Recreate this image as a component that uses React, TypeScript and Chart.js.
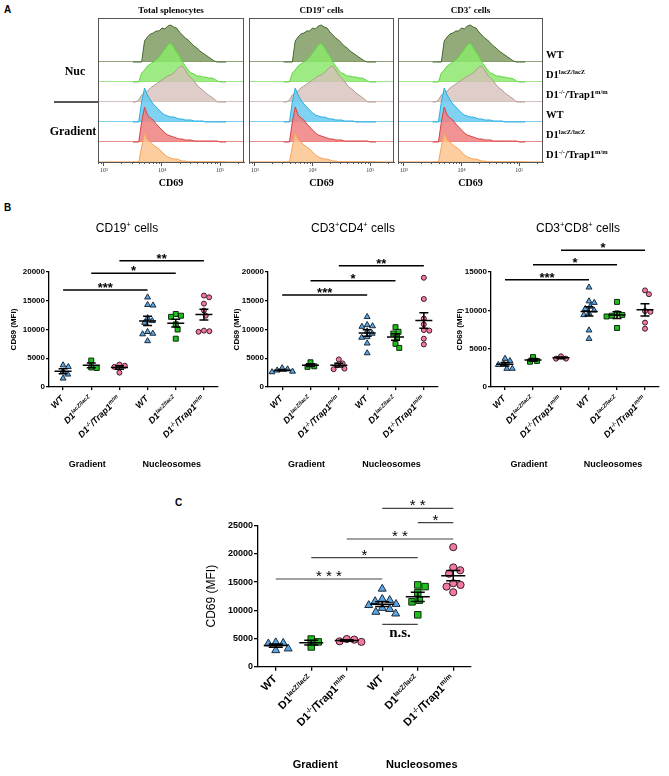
import React, { useEffect, useRef } from 'react';
import { Chart, registerables } from 'chart.js';

Chart.register(...registerables);

const SANS = '"Liberation Sans", Arial, sans-serif';
const SERIF = '"Liberation Serif", "Times New Roman", serif';

// ---------------- Panel A : CD69 histograms ----------------
// bin centres (CD69 fluorescence), counts per bin for each sample (rows top -> bottom)
const cd69Bins = [3162, 3548, 3981, 4467, 5012, 5623, 6310, 7079, 7943, 8913, 10000, 11220, 12589, 14125, 15849, 17783, 19953, 22387, 25119, 28184, 31623, 35481, 39811, 44668, 50119, 56234, 63096, 70795, 79433, 89125, 100000, 112202, 125893];
const nucWT = [0, 0, 0, 0, 21, 25, 28, 29, 31, 31, 34, 33, 36, 37, 35, 34, 30, 27, 24, 22, 19, 16, 14, 11, 9, 7, 5, 3, 1, 0, 0, 0, 0];
const nucD1 = [0, 0, 0, 9, 12, 16, 18, 20, 22, 25, 29, 33, 37, 39, 35, 30, 26, 20, 16, 12, 9, 8, 6, 6, 5, 5, 4, 4, 3, 1, 0, 0, 0];
const nucDKO = [0, 0, 2, 7, 9, 11, 14, 16, 18, 20, 22, 24, 26, 27, 29, 32, 35, 36, 32, 27, 24, 21, 17, 14, 12, 9, 7, 5, 3, 0, 0, 0, 0];
const gradWT = [0, 0, 0, 20, 34, 27, 22, 18, 15, 12, 9, 7, 6, 5, 5, 4, 3, 3, 2, 2, 2, 1, 1, 1, 1, 0, 0, 0, 0, 0, 0, 0, 0];
const gradD1 = [0, 0, 0, 20, 35, 27, 24, 22, 18, 15, 12, 9, 7, 6, 5, 4, 3, 3, 2, 2, 2, 1, 1, 1, 1, 1, 1, 1, 1, 1, 0, 0, 0];
const gradDKO = [0, 0, 0, 15, 29, 22, 20, 17, 15, 13, 10, 7, 5, 4, 3, 3, 2, 1, 1, 0, 0, 0, 0, 0, 0, 0, 0, 0, 0, 0, 0, 0, 0];
const histSeries = [nucWT, nucD1, nucDKO, gradWT, gradD1, gradDKO];
const histTicks = [1000, 10000, 100000];
const histTickLabels = ['10³', '10⁴', '10⁵'];
const histConditions = ['Nuc', 'Gradient'];

// ---------------- Panel B / C : CD69 MFI ----------------
const cd19Values = [
  [3800, 3500, 2700, 2200, 1500],
  [4600, 3400, 3300],
  [3900, 3700, 3500, 2500],
  [15600, 14300, 14200, 12000, 11500, 11200, 9600, 9300, 9200, 8000],
  [12700, 12200, 12400, 10900, 10000, 8400],
  [15900, 15600, 14500, 13300, 12400, 9800, 9700, 9600],
];
const cd4Values = [
  [3300, 3100, 2900, 2700, 2600],
  [4300, 3600, 3500],
  [4800, 4100, 3800, 3200, 3100],
  [12200, 10800, 10600, 10500, 9700, 9300, 8700, 8600, 7600, 5900],
  [10400, 9600, 9300, 8600, 7500, 6800],
  [19000, 15300, 11900, 10900, 9900, 9800, 8400, 7400],
];
const cd8Values = [
  [3700, 3400, 3000, 2900, 2400, 2400],
  [3900, 3400, 3300],
  [4000, 3700, 3700],
  [13000, 11200, 11000, 10500, 10200, 10000, 9600, 9400, 7400, 6300],
  [11100, 9600, 9400, 9300, 9200, 7700],
  [12600, 12100, 9900, 9800, 8400, 7600],
];
const totalValues = [
  [4300, 4200, 4100, 3200, 2900],
  [4900, 4400, 3500],
  [4900, 4800, 4500, 4400],
  [13800, 12000, 11800, 11600, 11100, 10900, 10400, 10200, 9700, 9400],
  [14500, 14200, 13100, 11800, 11500, 9200],
  [21200, 17600, 17100, 16500, 14800, 14500, 14200, 13200],
];
const ticks20k = [0, 5000, 10000, 15000, 20000];
const ticks15k = [0, 5000, 10000, 15000];
const ticks25k = [0, 5000, 10000, 15000, 20000, 25000];

type SigBar = [number, number, number, string];
const cd19Sig: SigBar[] = [[0, 3, 16870, '***'], [1, 4, 19770, '*'], [2, 5, 21960, '**']];
const cd4Sig: SigBar[] = [[0, 3, 16000, '***'], [1, 4, 18490, '*'], [2, 5, 21100, '**']];
const cd8Sig: SigBar[] = [[0, 3, 14000, '***'], [1, 4, 15960, '*'], [2, 5, 17830, '*']];
const totalSig: SigBar[] = [[0, 3, 15550, '* * *'], [1, 4, 19330, '*'], [2, 5, 22640, '* *'], [4, 5, 25530, '*'], [3, 5, 28080, '* *']];
const totalNs: SigBar[] = [[3, 4, 7520, 'n.s.']];

const conditionNames = ['Gradient', 'Nucleosomes'];

type Seg = { t: string; sup?: boolean };
const genotypeLabels: Seg[][] = [
  [{ t: 'WT' }],
  [{ t: 'D1' }, { t: 'lacZ/lacZ', sup: true }],
  [{ t: 'D1' }, { t: '-/-', sup: true }, { t: '/Trap1' }, { t: 'm/m', sup: true }],
];
const cellTitlesA: Seg[][] = [
  [{ t: 'Total splenocytes' }],
  [{ t: 'CD19' }, { t: '+', sup: true }, { t: ' cells' }],
  [{ t: 'CD3' }, { t: '+', sup: true }, { t: ' cells' }],
];
const cd19Title: Seg[] = [{ t: 'CD19' }, { t: '+', sup: true }, { t: ' cells' }];
const cd4Title: Seg[] = [{ t: 'CD3' }, { t: '+', sup: true }, { t: 'CD4' }, { t: '+', sup: true }, { t: ' cells' }];
const cd8Title: Seg[] = [{ t: 'CD3' }, { t: '+', sup: true }, { t: 'CD8' }, { t: '+', sup: true }, { t: ' cells' }];

// ---------------- styles ----------------
const histFill = ['rgba(128,156,100,0.85)', 'rgba(140,232,108,0.85)', 'rgba(214,192,186,0.8)', 'rgba(105,202,240,0.85)', 'rgba(240,128,128,0.85)', 'rgba(250,196,142,0.85)'];
const histLine = ['rgb(70,104,44)', 'rgb(96,212,66)', 'rgb(182,152,146)', 'rgb(38,172,224)', 'rgb(214,66,66)', 'rgb(245,162,86)'];
const markerFill = ['#5aa6e6', '#1fbf1f', '#f27aa2'];
const markerEdge = ['#1c2b3a', '#0b2a0b', '#3d1c28'];
const ROW_STEP = 20;

interface FontSpec { size: number; family: string; weight?: string; style?: string }
function fontStr(f: FontSpec, sup: boolean) {
  return `${f.style || 'normal'} ${f.weight || 'normal'} ${sup ? f.size * 0.62 : f.size}px ${f.family}`;
}
function drawRich(ctx: CanvasRenderingContext2D, segs: Seg[], x: number, y: number, f: FontSpec, align: 'left' | 'center' | 'right', color: string) {
  ctx.save();
  ctx.fillStyle = color;
  ctx.textAlign = 'left';
  ctx.textBaseline = 'alphabetic';
  const widths = segs.map((s) => { ctx.font = fontStr(f, !!s.sup); return ctx.measureText(s.t).width; });
  const total = widths.reduce((a, b) => a + b, 0);
  let cx = align === 'left' ? x : align === 'center' ? x - total / 2 : x - total;
  segs.forEach((s, i) => {
    ctx.font = fontStr(f, !!s.sup);
    ctx.fillText(s.t, cx, s.sup ? y - f.size * 0.38 : y);
    cx += widths[i];
  });
  ctx.restore();
}

// ---------------- Panel A config ----------------
const A_BOXES = [
  { x0: 0, w: 247, l: 98, r: 244 },
  { x0: 247, w: 150, l: 249, r: 394 },
  { x0: 397, w: 272, l: 398, r: 543 },
];
const A_H = 196;
const A_TOP = 18;
const A_BOTTOM = 162;

function histPlugin(k: number) {
  const n = histSeries.length;
  return {
    id: 'histDecor',
    beforeDatasetsDraw(chart: any) {
      const { ctx, chartArea: a, scales } = chart;
      ctx.save();
      ctx.lineWidth = 1;
      ctx.globalAlpha = 0.6;
      histSeries.forEach((_, r) => {
        const y = Math.round(scales.y.getPixelForValue((n - 1 - r) * ROW_STEP)) - 0.5;
        ctx.strokeStyle = histLine[r];
        ctx.beginPath();
        ctx.moveTo(a.left, y);
        ctx.lineTo(a.right, y);
        ctx.stroke();
      });
      ctx.restore();
    },
    afterDraw(chart: any) {
      const { ctx, chartArea: a, scales } = chart;
      const xs = scales.x;
      const ys = scales.y;
      ctx.save();
      ctx.strokeStyle = '#555';
      ctx.lineWidth = 1;
      ctx.strokeRect(a.left + 0.5, a.top + 0.5, a.right - a.left - 1, a.bottom - a.top);
      ctx.beginPath();
      [100, 1000, 10000, 100000].forEach((dec) => {
        for (let m = 2; m <= 9; m++) {
          const v = m * dec;
          if (v > xs.min && v < xs.max) {
            const x = Math.round(xs.getPixelForValue(v)) + 0.5;
            ctx.moveTo(x, a.bottom);
            ctx.lineTo(x, a.bottom + 2);
          }
        }
      });
      ctx.stroke();
      drawRich(ctx, cellTitlesA[k], (a.left + a.right) / 2, 13, { size: 9, family: SERIF, weight: 'bold' }, 'center', '#000');
      if (k === 0) {
        ctx.fillStyle = '#000';
        ctx.font = `bold 12px ${SERIF}`;
        ctx.textAlign = 'center';
        ctx.textBaseline = 'middle';
        histConditions.forEach((c, ci) => {
          const v = (n - 3 * ci - 1.5) * ROW_STEP;
          ctx.fillText(c, ci === 0 ? 75 : 73, ys.getPixelForValue(v));
        });
        const yd = ys.getPixelForValue(3 * ROW_STEP);
        ctx.strokeStyle = '#555';
        ctx.lineWidth = 2;
        ctx.beginPath();
        ctx.moveTo(54, yd);
        ctx.lineTo(a.left, yd);
        ctx.stroke();
      }
      if (k === 2) {
        histSeries.forEach((_, r) => {
          const y = ys.getPixelForValue((n - 1 - r) * ROW_STEP) - 4;
          drawRich(ctx, genotypeLabels[r % 3], a.right + 3, y, { size: 10.5, family: SERIF, weight: 'bold' }, 'left', '#000');
        });
      }
      ctx.restore();
    },
  };
}

function makeHistConfig(k: number) {
  const b = A_BOXES[k];
  const n = histSeries.length;
  const datasets = histSeries.map((counts, r) => {
    const base = (n - 1 - r) * ROW_STEP;
    return {
      data: cd69Bins.map((x, i) => ({ x, y: base + counts[i] })),
      borderColor: histLine[r],
      backgroundColor: histFill[r],
      borderWidth: 1,
      pointRadius: 0,
      tension: 0,
      fill: { value: base },
      order: n - 1 - r,
    };
  });
  return {
    type: 'line',
    data: { datasets },
    options: {
      responsive: false,
      animation: false,
      events: [],
      layout: { padding: { left: b.l - b.x0, right: b.x0 + b.w - b.r, top: A_TOP, bottom: 0 } },
      plugins: { legend: { display: false }, tooltip: { enabled: false } },
      scales: {
        x: {
          type: 'logarithmic',
          min: 794,
          max: 257000,
          afterBuildTicks: (s: any) => { s.ticks = histTicks.map((v) => ({ value: v })); },
          afterFit: (s: any) => { s.height = A_H - A_BOTTOM; },
          ticks: {
            callback: (v: number) => { const i = histTicks.indexOf(v); return i >= 0 ? histTickLabels[i] : ''; },
            font: { family: SERIF, size: 6 },
            color: '#333',
            padding: 1,
            maxRotation: 0,
            autoSkip: false,
          },
          grid: { drawOnChartArea: false, drawTicks: true, tickLength: 4, color: '#555' },
          border: { display: true, color: '#555' },
          title: { display: true, text: 'CD69', font: { family: SERIF, size: 10, weight: 'bold' }, color: '#000', padding: { top: 0, bottom: 7 } },
        },
        y: { display: false, min: 0, max: A_BOTTOM - A_TOP },
      },
    },
    plugins: [histPlugin(k)],
  };
}

// ---------------- Panel B/C config ----------------
interface DotPanel {
  x0: number; y0: number; w: number; h: number;
  area: { l: number; r: number; t: number; b: number };
  yMax: number; yTicks: number[];
  values: number[][]; sig: SigBar[]; ns?: SigBar[];
  title?: Seg[]; titleX?: number; titleY?: number;
  tickFont: number; axisTitleSize: number; axisTitleWeight: string; axisTitleX: number;
  catFont: FontSpec; catDx: number; catDy: number;
  groupFont: FontSpec; groupY: number; groupDx: number;
  starFont: FontSpec; starDy: number; sigColor: string; sigWidth: number;
  radii: number[]; swarmD: number; meanHalf: number; semHalf: number; lineW: number; tickLen: number;
}

function swarm(vals: number[], pxPerUnit: number, d: number): number[] {
  const idx = vals.map((_, i) => i).sort((a, b) => vals[b] - vals[a]);
  const placed: { x: number; y: number }[] = [];
  const out = vals.map(() => 0);
  idx.forEach((i) => {
    const y = vals[i] * pxPerUnit;
    const cands = [0];
    placed.forEach((q) => {
      const dy = Math.abs(q.y - y);
      if (dy < d) {
        const dx = Math.sqrt(d * d - dy * dy);
        cands.push(q.x + dx, q.x - dx);
      }
    });
    cands.sort((a, b) => Math.abs(a) - Math.abs(b) || b - a);
    const x = cands.find((c) => placed.every((q) => (q.x - c) ** 2 + (q.y - y) ** 2 >= d * d - 0.01));
    const xx = x === undefined ? 0 : x;
    placed.push({ x: xx, y });
    out[i] = xx;
  });
  return out;
}

function dotPlugin(p: DotPanel) {
  return {
    id: 'dotDecor',
    afterDatasetsDraw(chart: any) {
      const { ctx, scales } = chart;
      const xs = scales.x;
      const ys = scales.y;
      ctx.save();
      ctx.strokeStyle = '#000';
      ctx.lineWidth = 1.5;
      p.values.forEach((vals, gi) => {
        const n = vals.length;
        const m = vals.reduce((a, b) => a + b, 0) / n;
        const sd = Math.sqrt(vals.reduce((a, b) => a + (b - m) ** 2, 0) / (n - 1));
        const se = sd / Math.sqrt(n);
        const cx = xs.getPixelForValue(gi);
        const ym = ys.getPixelForValue(m);
        const yt = ys.getPixelForValue(m + se);
        const yb = ys.getPixelForValue(m - se);
        ctx.beginPath();
        ctx.moveTo(cx - p.meanHalf, ym); ctx.lineTo(cx + p.meanHalf, ym);
        ctx.moveTo(cx - p.semHalf, yt); ctx.lineTo(cx + p.semHalf, yt);
        ctx.moveTo(cx - p.semHalf, yb); ctx.lineTo(cx + p.semHalf, yb);
        ctx.moveTo(cx, yt); ctx.lineTo(cx, yb);
        ctx.stroke();
      });
      ctx.restore();
    },
    afterDraw(chart: any) {
      const { ctx, chartArea: a, scales } = chart;
      const xs = scales.x;
      const ys = scales.y;
      ctx.save();
      ctx.strokeStyle = p.sigColor;
      ctx.lineWidth = p.sigWidth;
      ctx.fillStyle = '#000';
      ctx.textAlign = 'center';
      ctx.textBaseline = 'alphabetic';
      p.sig.forEach(([g1, g2, v, label]) => {
        const x1 = xs.getPixelForValue(g1);
        const x2 = xs.getPixelForValue(g2);
        const y = ys.getPixelForValue(v);
        ctx.beginPath(); ctx.moveTo(x1, y); ctx.lineTo(x2, y); ctx.stroke();
        ctx.font = fontStr(p.starFont, false);
        ctx.fillText(label, (x1 + x2) / 2, y + p.starDy);
      });
      (p.ns || []).forEach(([g1, g2, v, label]) => {
        const x1 = xs.getPixelForValue(g1);
        const x2 = xs.getPixelForValue(g2);
        const y = ys.getPixelForValue(v);
        ctx.beginPath(); ctx.moveTo(x1, y); ctx.lineTo(x2, y); ctx.stroke();
        ctx.font = `bold 15px ${SERIF}`;
        ctx.fillText(label, (x1 + x2) / 2, y + 13);
      });
      p.values.forEach((_, i) => {
        const cx = xs.getPixelForValue(i);
        ctx.save();
        ctx.translate(cx + p.catDx, a.bottom + p.catDy);
        ctx.rotate(-Math.PI / 4);
        drawRich(ctx, genotypeLabels[i % 3], 0, p.catFont.size * 0.35, p.catFont, 'right', '#000');
        ctx.restore();
      });
      conditionNames.forEach((g, k) => {
        const cx = xs.getPixelForValue(1 + 3 * k) + p.groupDx;
        drawRich(ctx, [{ t: g }], cx, p.groupY - p.y0, p.groupFont, 'center', '#000');
      });
      if (p.title) {
        drawRich(ctx, p.title, (p.titleX as number) - p.x0, (p.titleY as number) - p.y0, { size: 12, family: SANS }, 'center', '#000');
      }
      ctx.restore();
    },
  };
}

function makeDotConfig(p: DotPanel) {
  const plotW = p.area.r - p.area.l;
  const plotH = p.area.b - p.area.t;
  const catW = plotW / 6;
  const pxPerUnit = plotH / p.yMax;
  const shapes = ['triangle', 'rect', 'circle'];
  const datasets = p.values.map((vals, gi) => {
    const offs = swarm(vals, pxPerUnit, p.swarmD);
    const k = gi % 3;
    return {
      data: vals.map((v, j) => ({ x: gi + offs[j] / catW, y: v })),
      pointStyle: shapes[k],
      pointRadius: p.radii[k],
      pointHoverRadius: p.radii[k],
      backgroundColor: markerFill[k],
      borderColor: markerEdge[k],
      borderWidth: 1,
      clip: false,
    };
  });
  const lh = p.axisTitleSize * 1.2;
  return {
    type: 'scatter',
    data: { datasets },
    options: {
      responsive: false,
      animation: false,
      events: [],
      layout: { padding: { left: 0, right: p.x0 + p.w - p.area.r, top: p.area.t - p.y0, bottom: 0 } },
      plugins: { legend: { display: false }, tooltip: { enabled: false } },
      scales: {
        x: {
          type: 'linear',
          min: -0.5,
          max: 5.5,
          afterBuildTicks: (s: any) => { s.ticks = p.values.map((_, i) => ({ value: i })); },
          afterFit: (s: any) => { s.height = p.y0 + p.h - p.area.b; },
          ticks: { display: false },
          grid: { drawOnChartArea: false, drawTicks: true, tickLength: p.tickLen, color: '#000', lineWidth: p.lineW },
          border: { display: true, color: '#000', width: p.lineW },
        },
        y: {
          type: 'linear',
          min: 0,
          max: p.yMax,
          afterBuildTicks: (s: any) => { s.ticks = p.yTicks.map((v) => ({ value: v })); },
          afterFit: (s: any) => { s.width = p.area.l - p.x0; },
          ticks: { callback: (v: number) => String(v), font: { family: SANS, size: p.tickFont, weight: 'bold' }, color: '#000', padding: 1 },
          grid: { drawOnChartArea: false, drawTicks: true, tickLength: p.tickLen, color: '#000', lineWidth: p.lineW },
          border: { display: true, color: '#000', width: p.lineW },
          title: {
            display: true,
            text: 'CD69 (MFI)',
            font: { family: SANS, size: p.axisTitleSize, weight: p.axisTitleWeight },
            color: '#000',
            padding: { top: p.axisTitleX - p.x0 - lh / 2, bottom: 0 },
          },
        },
      },
    },
    plugins: [dotPlugin(p)],
  };
}

const B_STYLE = {
  tickFont: 8,
  axisTitleSize: 8,
  axisTitleWeight: 'bold',
  catFont: { size: 9, family: SANS, weight: 'bold', style: 'italic' },
  catDx: -1,
  catDy: 10,
  groupFont: { size: 9, family: SANS, weight: 'bold' },
  groupY: 467,
  groupDx: -4,
  starFont: { size: 13, family: SANS, weight: 'bold' },
  starDy: 2,
  sigColor: '#000',
  sigWidth: 1.5,
  radii: [3.4, 3.5, 2.5],
  swarmD: 5.5,
  meanHalf: 8.5,
  semHalf: 4.5,
  lineW: 1.3,
  tickLen: 3,
};

const panelB1: DotPanel = { ...B_STYLE, x0: 0, y0: 200, w: 225, h: 276, area: { l: 49, r: 218, t: 272, b: 387 }, yMax: 20000, yTicks: ticks20k, values: cd19Values, sig: cd19Sig, title: cd19Title, titleX: 127, titleY: 232, axisTitleX: 14 };
const panelB2: DotPanel = { ...B_STYLE, x0: 225, y0: 200, w: 223, h: 276, area: { l: 268, r: 438, t: 272, b: 387 }, yMax: 20000, yTicks: ticks20k, values: cd4Values, sig: cd4Sig, title: cd4Title, titleX: 353, titleY: 232, axisTitleX: 237 };
const panelB3: DotPanel = { ...B_STYLE, x0: 448, y0: 200, w: 221, h: 276, area: { l: 491, r: 659, t: 272, b: 387 }, yMax: 15000, yTicks: ticks15k, values: cd8Values, sig: cd8Sig, title: cd8Title, titleX: 578, titleY: 232, axisTitleX: 460 };
const panelC: DotPanel = {
  x0: 150, y0: 490, w: 350, h: 286,
  area: { l: 258, r: 471, t: 525.7, b: 666.7 },
  yMax: 25000, yTicks: ticks25k, values: totalValues, sig: totalSig, ns: totalNs,
  tickFont: 9, axisTitleSize: 12, axisTitleWeight: 'normal', axisTitleX: 212,
  catFont: { size: 11, family: SANS, weight: 'bold' }, catDx: -1, catDy: 10,
  groupFont: { size: 11, family: SANS, weight: 'bold' }, groupY: 768, groupDx: 4,
  starFont: { size: 15, family: SANS }, starDy: 2, sigColor: '#444', sigWidth: 1.2,
  radii: [4.6, 4.6, 3.6], swarmD: 7.5, meanHalf: 12, semHalf: 7, lineW: 1.3, tickLen: 4,
};

function ChartBox({ x, y, w, h, make }: { x: number; y: number; w: number; h: number; make: () => any }) {
  const ref = useRef<HTMLCanvasElement>(null);
  useEffect(() => {
    const chart = new Chart(ref.current as HTMLCanvasElement, make());
    return () => chart.destroy();
  }, []);
  return <canvas ref={ref} width={w} height={h} style={{ position: 'absolute', left: x, top: y, width: w, height: h }} />;
}

const letterStyle = (left: number, top: number): React.CSSProperties => ({
  position: 'absolute', left, top, font: `bold 10px ${SANS}`, color: '#000', lineHeight: '12px',
});

export default function App() {
  return (
    <div style={{ position: 'absolute', left: 0, top: 0, width: 669, height: 776, background: '#fff', overflow: 'hidden' }}>
      <div style={letterStyle(4, 4)}>A</div>
      <div style={letterStyle(4, 202)}>B</div>
      <div style={letterStyle(175, 497)}>C</div>
      {A_BOXES.map((b, k) => (
        <ChartBox key={'a' + k} x={b.x0} y={0} w={b.w} h={A_H} make={() => makeHistConfig(k)} />
      ))}
      {[panelB1, panelB2, panelB3, panelC].map((p, k) => (
        <ChartBox key={'b' + k} x={p.x0} y={p.y0} w={p.w} h={p.h} make={() => makeDotConfig(p)} />
      ))}
    </div>
  );
}
